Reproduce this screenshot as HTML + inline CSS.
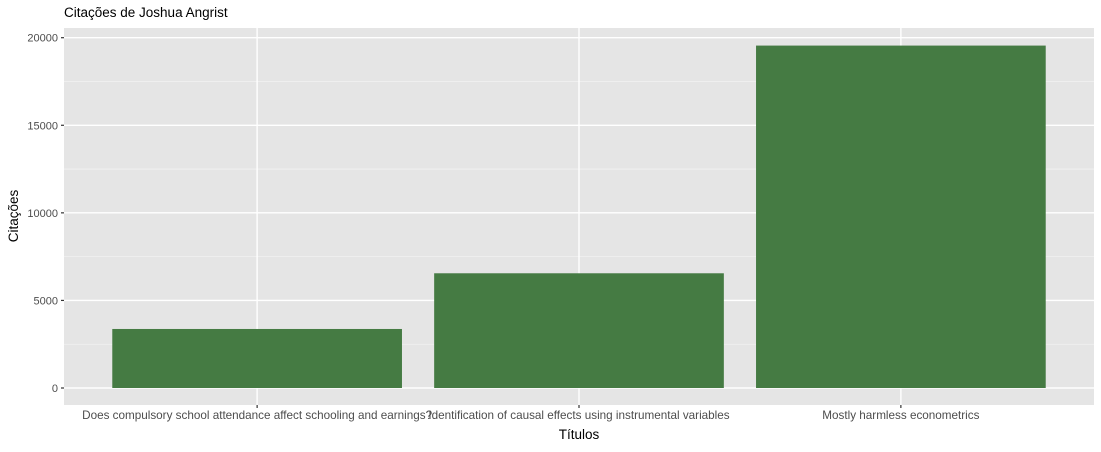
<!DOCTYPE html>
<html><head><meta charset="utf-8"><style>
body{margin:0;background:#fff;font-family:"Liberation Sans",sans-serif;}
svg text{font-family:"Liberation Sans",sans-serif;}
</style></head><body>
<script>
const categories=["Does compulsory school attendance affect schooling and earnings?","Identification of causal effects using instrumental variables","Mostly harmless econometrics"];
const citations=[3370,6550,19550];
const yTicks=[0,5000,10000,15000,20000];
</script>
<svg width="1101" height="447">
<text x="64" y="17" font-size="13.5" fill="#000">Citações de Joshua Angrist</text>
<rect x="64" y="28" width="1030" height="377" fill="#e5e5e5"/>
<g id="g"></g>
<text x="579" y="439" font-size="13.5" text-anchor="middle">Títulos</text>
<text transform="translate(18,216) rotate(-90)" font-size="13.5" text-anchor="middle">Citações</text>
</svg>
<script>
const ns="http://www.w3.org/2000/svg";
const g=document.getElementById('g');
const L=64,R=1094,y0=388,y20=37.7;
const y=v=>y0-(y0-y20)*v/20000;
const step=(R-L)/(categories.length+0.2);
const x=i=>L+step*(0.6+i);
function mk(t,a){const e=document.createElementNS(ns,t);for(const k in a)e.setAttribute(k,a[k]);g.appendChild(e);return e;}
for(let k=0;k<yTicks.length-1;k++){const v=(yTicks[k]+yTicks[k+1])/2;
const e=mk('line',{x1:L,x2:R,y1:y(v),y2:y(v),stroke:'#f2f2f2','stroke-width':0.8});

}
yTicks.forEach(v=>{const e=mk('line',{x1:L,x2:R,y1:y(v),y2:y(v),stroke:'#fff','stroke-width':1.4});


const t=mk('line',{x1:L-3,x2:L,y1:y(v),y2:y(v),stroke:'#333','stroke-width':1.2});


const l=mk('text',{x:L-6,y:y(v)+4,'font-size':11,'text-anchor':'end',fill:'#4d4d4d'});l.textContent=v;

});
categories.forEach((c,i)=>{const e=mk('line',{x1:x(i),x2:x(i),y1:28,y2:405,stroke:'#fff','stroke-width':1.4});

});
categories.forEach((c,i)=>{const w=step*0.9;
const b=mk('rect',{x:x(i)-w/2,y:y(citations[i]),width:w,height:y(0)-y(citations[i]),fill:'#457b43'});


const t=mk('line',{x1:x(i),x2:x(i),y1:405,y2:408,stroke:'#333','stroke-width':1.2});


const l=mk('text',{x:x(i),y:419,'font-size':11.7,'text-anchor':'middle',fill:'#4d4d4d'});l.textContent=c;

});
</script>
</body></html>
